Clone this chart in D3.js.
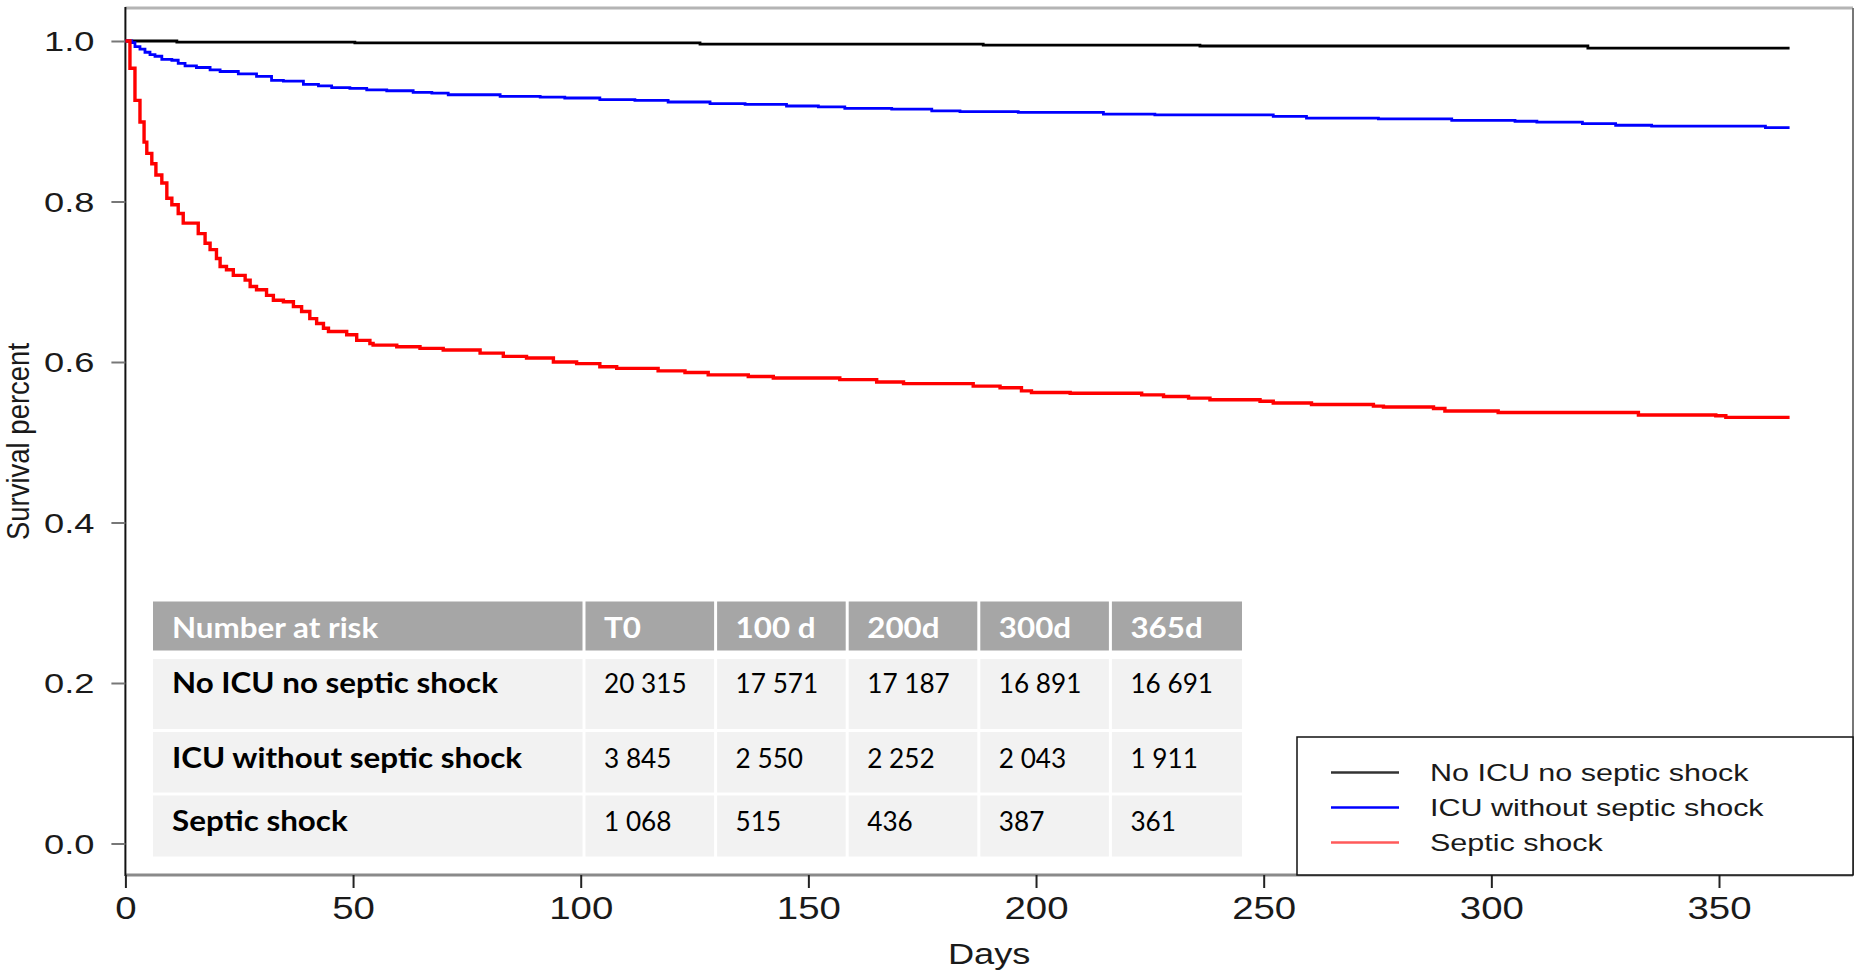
<!DOCTYPE html>
<html>
<head>
<meta charset="utf-8">
<title>Survival by group</title>
<script src="https://cdn.jsdelivr.net/npm/d3@7"></script>
<style>
  body { margin: 0; background: #fff; }
  svg { display: block; }
</style>
</head>
<body>
<svg id="chart" width="1855" height="973"></svg>
<script>
// ---- data -------------------------------------------------------------
const groups = ["No ICU no septic shock", "ICU without septic shock", "Septic shock"];
const groupColors = ["#000000", "#0000ff", "#ff0000"];
const legendColors = ["#333333", "#0000ff", "#ff5a5a"];

// Kaplan-Meier step estimates: day of each step and survival from that day on
const noIcuDays = [0, 11.3, 50.4, 126.2, 188.4, 236.0, 321.2, 365.5];
const noIcuSurv = [1.0, 0.9987, 0.9977, 0.9962, 0.9948, 0.9938, 0.9910, 0.9910];

const icuDays = [0, 1.4, 2.1, 3.2, 4.3, 5.4, 6.5, 8.0, 10.2, 11.6, 13.1, 15.6, 18.6, 20.8,
  24.8, 28.8, 32.1, 34.7, 39.1, 42.4, 45.3, 49.3, 53.0, 57.4, 63.2, 67.3, 70.9, 82.3, 91.1,
  96.5, 104.2, 111.9, 119.2, 128.4, 136.1, 145.2, 152.2, 158.0, 168.3, 177.1, 183.3, 196.1,
  214.8, 226.1, 252.1, 259.4, 275.2, 291.3, 305.2, 310.0, 320.0, 327.3, 335.2, 360.2, 365.5];
const icuSurv = [1.0, 0.998, 0.993, 0.990, 0.986, 0.983, 0.981, 0.977, 0.976, 0.972, 0.969,
  0.967, 0.964, 0.962, 0.959, 0.956, 0.951, 0.950, 0.946, 0.944, 0.942, 0.941, 0.939, 0.938,
  0.936, 0.935, 0.933, 0.931, 0.930, 0.929, 0.927, 0.926, 0.924, 0.922, 0.921, 0.919, 0.918,
  0.916, 0.915, 0.913, 0.912, 0.911, 0.909, 0.908, 0.906, 0.904, 0.903, 0.901, 0.900, 0.899,
  0.897, 0.895, 0.894, 0.892, 0.892];

const shockDays = [0, 1.0, 2.1, 3.2, 4.1, 4.7, 5.8, 6.7, 8.0, 9.1, 10.2, 11.6, 12.7, 16.0,
  17.5, 18.6, 20.0, 20.8, 22.2, 23.7, 26.3, 27.4, 28.8, 31.0, 32.5, 34.7, 36.9, 38.7, 40.5,
  42.0, 43.5, 44.6, 48.6, 50.8, 53.7, 54.4, 59.6, 64.7, 69.8, 77.9, 83.0, 88.1, 94.0, 99.1,
  104.2, 107.9, 117.0, 122.9, 128.0, 136.8, 142.3, 156.9, 165.0, 170.9, 186.2, 192.1, 196.8,
  199.0, 207.5, 223.2, 228.0, 233.5, 238.2, 249.2, 252.1, 260.5, 274.1, 276.3, 287.3, 289.8,
  301.5, 332.3, 349.3, 351.5, 365.5];
const shockSurv = [1.0, 0.966, 0.926, 0.899, 0.874, 0.860, 0.847, 0.833, 0.823, 0.804, 0.796,
  0.785, 0.773, 0.760, 0.748, 0.740, 0.729, 0.719, 0.715, 0.708, 0.702, 0.694, 0.690, 0.683,
  0.677, 0.675, 0.669, 0.663, 0.654, 0.648, 0.642, 0.638, 0.634, 0.627, 0.623, 0.621, 0.619,
  0.617, 0.615, 0.611, 0.607, 0.605, 0.600, 0.598, 0.594, 0.592, 0.589, 0.587, 0.584, 0.582,
  0.580, 0.578, 0.575, 0.573, 0.570, 0.568, 0.564, 0.562, 0.561, 0.559, 0.557, 0.555, 0.553,
  0.551, 0.549, 0.547, 0.545, 0.544, 0.542, 0.539, 0.537, 0.534, 0.533, 0.531, 0.531];

const xTicks = [0, 50, 100, 150, 200, 250, 300, 350];
const yTicks = [0.0, 0.2, 0.4, 0.6, 0.8, 1.0];

// number-at-risk table
const riskHeader = "Number at risk";
const riskTimes = ["T0", "100 d", "200d", "300d", "365d"];
const riskNoIcu = ["20 315", "17 571", "17 187", "16 891", "16 691"];
const riskIcu = ["3 845", "2 550", "2 252", "2 043", "1 911"];
const riskShock = ["1 068", "515", "436", "387", "361"];

// ---- layout -----------------------------------------------------------
const svg = d3.select("#chart");
const box = { left: 125.4, right: 1853, top: 8, bottom: 875 };
const x = d3.scaleLinear().domain([0, 350]).range([125.4, 1719]);
const y = d3.scaleLinear().domain([0, 1]).range([843.5, 41]);

const sansFont = "'Liberation Sans', Arial, Helvetica, sans-serif";
const tableFont = "Lato, 'Open Sans', sans-serif";
const txtStretch = 1.25;   // horizontal widening of the plot lettering

// plot frame
svg.append("line").attr("x1", box.left).attr("x2", box.right).attr("y1", box.top).attr("y2", box.top)
  .attr("stroke", "#b4b4b4").attr("stroke-width", 3);
svg.append("line").attr("x1", box.right).attr("x2", box.right).attr("y1", box.top).attr("y2", box.bottom)
  .attr("stroke", "#777").attr("stroke-width", 2);
svg.append("line").attr("x1", box.left).attr("x2", box.right).attr("y1", box.bottom).attr("y2", box.bottom)
  .attr("stroke", "#8a8a8a").attr("stroke-width", 3);
svg.append("line").attr("x1", box.left).attr("x2", box.left).attr("y1", box.top - 1).attr("y2", box.bottom + 1)
  .attr("stroke", "#111").attr("stroke-width", 2);

// y axis
const yAxis = svg.append("g").attr("transform", `translate(${box.left},0)`)
  .call(d3.axisLeft(y).tickValues(yTicks).tickFormat(d3.format(".1f")).tickSize(14).tickPadding(18));
yAxis.select(".domain").remove();
yAxis.selectAll(".tick line").attr("stroke", "#777").attr("stroke-width", 2);
yAxis.selectAll(".tick text")
  .attr("x", null).attr("dy", null)
  .attr("transform", "translate(-31,9.5) scale(1.32,1)")
  .attr("font-family", sansFont).attr("font-size", 27.5).attr("fill", "#1a1a1a");

// x axis
const xAxis = svg.append("g").attr("transform", `translate(0,${box.bottom})`)
  .call(d3.axisBottom(x).tickValues(xTicks).tickFormat(d3.format("d")).tickSize(13));
xAxis.select(".domain").remove();
xAxis.selectAll(".tick line").attr("stroke", "#222").attr("stroke-width", 2);
xAxis.selectAll(".tick text")
  .attr("y", null).attr("dy", null)
  .attr("transform", "translate(0,44) scale(1.2,1)")
  .attr("font-family", sansFont).attr("font-size", 32).attr("fill", "#1a1a1a");

// axis titles
svg.append("text")
  .attr("transform", `translate(${(box.left + box.right) / 2},964) scale(${txtStretch},1)`)
  .attr("text-anchor", "middle").attr("font-family", sansFont).attr("font-size", 29)
  .attr("fill", "#1a1a1a").text("Days");
svg.append("text")
  .attr("transform", `translate(29,${(box.top + box.bottom) / 2}) scale(1.12,1) rotate(-90)`)
  .attr("text-anchor", "middle").attr("font-family", sansFont).attr("font-size", 27.5)
  .attr("fill", "#1a1a1a").text("Survival percent");

// ---- survival curves ------------------------------------------------------
const series = [
  { name: groups[0], days: noIcuDays, surv: noIcuSurv, width: 2.8 },
  { name: groups[1], days: icuDays, surv: icuSurv, width: 2.8 },
  { name: groups[2], days: shockDays, surv: shockSurv, width: 3.4 }
];
const line = d3.line().x(d => x(d[0])).y(d => y(d[1])).curve(d3.curveStepAfter);
svg.append("g").selectAll("path").data(series).join("path")
  .attr("d", s => line(d3.zip(s.days, s.surv)))
  .attr("fill", "none")
  .attr("stroke", (s, i) => groupColors[i])
  .attr("stroke-width", s => s.width);

// ---- number-at-risk table -------------------------------------------------
const tbl = svg.append("g");
const tLeft = 153, firstColW = 431, colW = 131.6, gap = 3;
const colEdges = [tLeft, tLeft + firstColW].concat(riskTimes.map((t, i) => tLeft + firstColW + colW * (i + 1)));
const rowSpecs = [
  { top: 601.5, h: 49, base: 637.5, fill: "#a6a6a6", color: "#fff", cells: [riskHeader].concat(riskTimes), bold: true },
  { top: 659, h: 70, base: 693, fill: "#f2f2f2", color: "#000", cells: [groups[0]].concat(riskNoIcu) },
  { top: 732, h: 60.5, base: 768, fill: "#f2f2f2", color: "#000", cells: [groups[1]].concat(riskIcu) },
  { top: 795.5, h: 61, base: 831, fill: "#f2f2f2", color: "#000", cells: [groups[2]].concat(riskShock) }
];
rowSpecs.forEach(r => {
  r.cells.forEach((c, j) => {
    const x0 = colEdges[j] + (j > 0 ? gap / 2 : 0);
    const x1 = colEdges[j + 1] - (j < r.cells.length - 1 ? gap / 2 : 0);
    tbl.append("rect").attr("x", x0).attr("y", r.top).attr("width", x1 - x0).attr("height", r.h)
      .attr("fill", r.fill);
    const bold = r.bold || j === 0;
    tbl.append("text")
      .attr("transform", `translate(${colEdges[j] + (j === 0 ? 19 : 20)},${r.base}) scale(${bold ? 1.12 : 0.97},1)`)
      .attr("font-family", tableFont).attr("font-size", bold ? 28 : 27)
      .attr("font-weight", bold ? 700 : 400).attr("fill", r.color).text(c);
  });
});

// ---- legend ------------------------------------------------------------
const lg = svg.append("g");
lg.append("rect").attr("x", 1297).attr("y", 737).attr("width", box.right - 1297).attr("height", box.bottom - 737)
  .attr("fill", "#fff").attr("stroke", "#111").attr("stroke-width", 1.5);
const legRows = lg.selectAll("g.item").data(groups).join("g").attr("class", "item")
  .attr("transform", (d, i) => `translate(0,${772.5 + i * 35})`);
legRows.append("line").attr("x1", 1331).attr("x2", 1399).attr("y1", 0).attr("y2", 0)
  .attr("stroke", (d, i) => legendColors[i]).attr("stroke-width", 2.6);
legRows.append("text")
  .attr("transform", `translate(1430,8.5) scale(1.27,1)`)
  .attr("font-family", sansFont).attr("font-size", 24).attr("fill", "#1a1a1a").text(d => d);
</script>
</body>
</html>
